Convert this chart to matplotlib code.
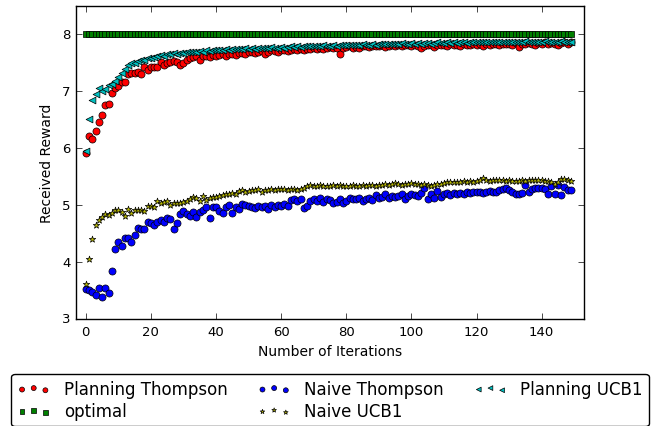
import matplotlib
matplotlib.use('Agg')
import matplotlib.pyplot as plt
import numpy as np

iterations = np.arange(150)

planning_thompson = [
    5.92, 6.21, 6.16, 6.30, 6.46, 6.58, 6.76, 6.78, 6.98, 7.06,
    7.09, 7.16, 7.17, 7.30, 7.32, 7.33, 7.34, 7.31, 7.42, 7.38,
    7.43, 7.42, 7.42, 7.51, 7.47, 7.50, 7.51, 7.53, 7.51, 7.47,
    7.50, 7.55, 7.58, 7.60, 7.62, 7.55, 7.63, 7.63, 7.60, 7.64,
    7.62, 7.64, 7.66, 7.63, 7.65, 7.66, 7.64, 7.67, 7.68, 7.66,
    7.69, 7.70, 7.68, 7.70, 7.71, 7.65, 7.70, 7.72, 7.71, 7.70,
    7.72, 7.73, 7.71, 7.72, 7.74, 7.73, 7.75, 7.72, 7.74, 7.75,
    7.76, 7.74, 7.77, 7.75, 7.76, 7.78, 7.76, 7.77, 7.66, 7.77,
    7.78, 7.79, 7.77, 7.78, 7.76, 7.79, 7.80, 7.78, 7.79, 7.80,
    7.79, 7.81, 7.78, 7.80, 7.81, 7.79, 7.82, 7.80, 7.81, 7.82,
    7.80, 7.81, 7.79, 7.76, 7.80, 7.82, 7.81, 7.78, 7.82, 7.81,
    7.82, 7.80, 7.83, 7.81, 7.82, 7.80, 7.83, 7.82, 7.81, 7.83,
    7.82, 7.84, 7.80, 7.83, 7.82, 7.84, 7.83, 7.81, 7.84, 7.83,
    7.84, 7.82, 7.85, 7.78, 7.84, 7.83, 7.85, 7.84, 7.82, 7.85,
    7.84, 7.86, 7.83, 7.85, 7.84, 7.82, 7.85, 7.86, 7.84, 7.86,
]

planning_ucb1 = [
    5.95, 6.52, 6.85, 6.96, 7.06, 7.01, 7.04, 7.11, 7.13, 7.19,
    7.26, 7.33, 7.40, 7.46, 7.49, 7.50, 7.53, 7.55, 7.55, 7.58,
    7.58, 7.61, 7.62, 7.64, 7.63, 7.65, 7.66, 7.67, 7.66, 7.68,
    7.67, 7.69, 7.70, 7.69, 7.70, 7.71, 7.70, 7.72, 7.71, 7.72,
    7.73, 7.72, 7.73, 7.74, 7.73, 7.74, 7.75, 7.74, 7.75, 7.76,
    7.75, 7.76, 7.75, 7.77, 7.76, 7.77, 7.76, 7.78, 7.77, 7.77,
    7.78, 7.77, 7.78, 7.79, 7.78, 7.79, 7.78, 7.80, 7.79, 7.79,
    7.80, 7.79, 7.80, 7.81, 7.80, 7.80, 7.81, 7.80, 7.81, 7.82,
    7.81, 7.81, 7.82, 7.81, 7.82, 7.83, 7.82, 7.82, 7.83, 7.82,
    7.83, 7.83, 7.84, 7.83, 7.84, 7.83, 7.84, 7.85, 7.84, 7.84,
    7.85, 7.84, 7.85, 7.84, 7.85, 7.85, 7.84, 7.85, 7.86, 7.85,
    7.85, 7.86, 7.85, 7.86, 7.85, 7.86, 7.86, 7.85, 7.86, 7.87,
    7.86, 7.86, 7.87, 7.86, 7.87, 7.86, 7.87, 7.86, 7.87, 7.87,
    7.86, 7.87, 7.87, 7.86, 7.87, 7.88, 7.87, 7.87, 7.86, 7.87,
    7.87, 7.88, 7.87, 7.87, 7.86, 7.87, 7.88, 7.87, 7.87, 7.87,
]

optimal = [8.0] * 150

naive_thompson = [
    3.53, 3.51, 3.48, 3.42, 3.55, 3.39, 3.55, 3.46, 3.85, 4.23,
    4.35, 4.29, 4.42, 4.42, 4.36, 4.47, 4.60, 4.59, 4.58, 4.71,
    4.68, 4.65, 4.70, 4.74, 4.71, 4.77, 4.75, 4.59, 4.68, 4.84,
    4.89, 4.84, 4.81, 4.88, 4.80, 4.88, 4.91, 4.96, 4.77, 4.96,
    4.96, 4.89, 4.86, 4.96, 5.00, 4.87, 4.97, 4.93, 5.02, 5.00,
    4.99, 4.97, 4.95, 4.99, 4.96, 4.98, 4.94, 5.00, 4.96, 5.01,
    4.98, 5.02, 4.99, 5.09, 5.11, 5.08, 5.10, 4.95, 4.99, 5.07,
    5.10, 5.08, 5.12, 5.06, 5.11, 5.09, 5.03, 5.06, 5.10, 5.04,
    5.08, 5.12, 5.11, 5.10, 5.12, 5.07, 5.11, 5.13, 5.09, 5.18,
    5.12, 5.14, 5.20, 5.13, 5.16, 5.15, 5.17, 5.19, 5.10, 5.16,
    5.20, 5.18, 5.17, 5.21, 5.31, 5.11, 5.20, 5.12, 5.25, 5.15,
    5.20, 5.22, 5.18, 5.21, 5.19, 5.22, 5.20, 5.23, 5.22, 5.24,
    5.23, 5.24, 5.22, 5.24, 5.25, 5.23, 5.24, 5.26, 5.28, 5.31,
    5.27, 5.24, 5.19, 5.20, 5.21, 5.35, 5.24, 5.28, 5.31, 5.31,
    5.30, 5.28, 5.20, 5.33, 5.19, 5.35, 5.18, 5.32, 5.27, 5.27,
]

naive_ucb1 = [
    3.62, 4.06, 4.41, 4.65, 4.74, 4.79, 4.85, 4.83, 4.86, 4.91,
    4.91, 4.88, 4.81, 4.93, 4.86, 4.91, 4.91, 4.91, 4.89, 4.98,
    4.98, 4.96, 5.07, 5.03, 5.05, 5.07, 5.00, 5.03, 5.04, 5.04,
    5.06, 5.07, 5.11, 5.14, 5.12, 5.07, 5.16, 5.09, 5.13, 5.14,
    5.15, 5.17, 5.18, 5.20, 5.20, 5.21, 5.20, 5.25, 5.27, 5.24,
    5.25, 5.27, 5.26, 5.28, 5.23, 5.26, 5.27, 5.28, 5.27, 5.28,
    5.29, 5.28, 5.27, 5.29, 5.28, 5.27, 5.28, 5.30, 5.34, 5.35,
    5.34, 5.33, 5.35, 5.34, 5.33, 5.34, 5.35, 5.33, 5.36, 5.34,
    5.33, 5.34, 5.35, 5.33, 5.34, 5.35, 5.34, 5.36, 5.35, 5.34,
    5.36, 5.35, 5.37, 5.36, 5.38, 5.39, 5.37, 5.36, 5.37, 5.38,
    5.39, 5.38, 5.37, 5.36, 5.37, 5.35, 5.34, 5.36, 5.37, 5.38,
    5.39, 5.40, 5.40, 5.41, 5.40, 5.41, 5.42, 5.41, 5.42, 5.41,
    5.42, 5.44, 5.48, 5.45, 5.43, 5.44, 5.44, 5.45, 5.44, 5.43,
    5.44, 5.43, 5.42, 5.43, 5.44, 5.43, 5.44, 5.45, 5.44, 5.45,
    5.44, 5.43, 5.42, 5.41, 5.38, 5.40, 5.46, 5.46, 5.45, 5.43,
]

plt.style.use('classic')
plt.rcParams['font.family'] = 'DejaVu Sans'

fig = plt.figure(figsize=(6.52, 4.27), dpi=100, facecolor='white')
ax = fig.add_axes([76 / 652, 1 - 320 / 427, 508 / 652, 313 / 427])

ax.scatter(iterations, planning_thompson, c='r', marker='o', s=26, linewidths=0.5, label='Planning Thompson')
ax.scatter(iterations, optimal, c='g', marker='s', s=24, linewidths=0.5, label='optimal')
ax.scatter(iterations, naive_thompson, c='b', marker='o', s=26, linewidths=0.5, label='Naive Thompson')
ax.scatter(iterations, naive_ucb1, c='y', marker='*', s=24, linewidths=0.5, label='Naive UCB1')
ax.scatter(iterations, planning_ucb1, c='c', marker='<', s=24, linewidths=0.5, label='Planning UCB1')

ax.set_xlim(-3, 153)
ax.set_ylim(3, 8.5)
ax.set_xticks(range(0, 141, 20))
ax.set_yticks([3, 4, 5, 6, 7, 8])
ax.tick_params(labelsize=9.5)
ax.set_xlabel('Number of Iterations', fontsize=10)
ax.set_ylabel('Received Reward', fontsize=10, labelpad=6)

fig.legend(loc='center', bbox_to_anchor=(330 / 652, 1 - 401 / 427), ncol=3,
           scatterpoints=3, scatteryoffsets=[0.375, 0.5, 0.3125], markerscale=0.7,
           fancybox=True, fontsize=12, columnspacing=1.8, handlelength=2.0,
           handletextpad=0.8, borderpad=0.35, labelspacing=0.25, framealpha=1)

fig.savefig('out.png', dpi=100, facecolor='white')
